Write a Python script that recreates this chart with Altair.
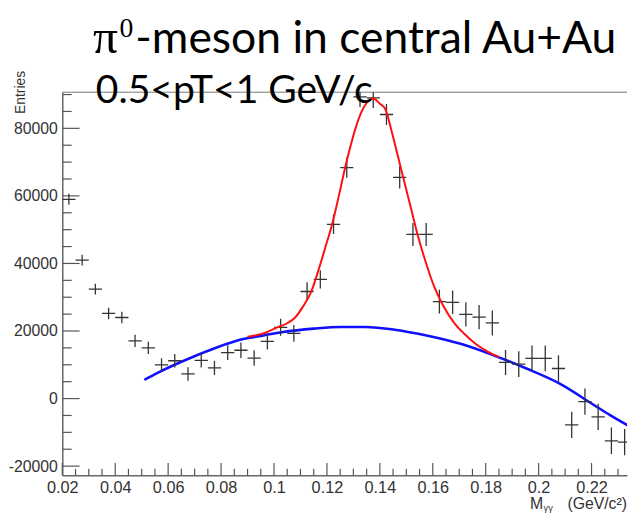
import altair as alt
import pandas as pd

# ---------------- data ----------------
bin_centers = [0.0225, 0.0275, 0.0325, 0.0375, 0.0425, 0.0475, 0.0525, 0.0575, 0.0625, 0.0675,
               0.0725, 0.0775, 0.0825, 0.0875, 0.0925, 0.0975, 0.1025, 0.1075, 0.1125, 0.1175,
               0.1225, 0.1275, 0.1325, 0.1375, 0.1425, 0.1475, 0.1525, 0.1575, 0.1625, 0.1675,
               0.1725, 0.1775, 0.1825, 0.1875, 0.1925, 0.1975, 0.2025, 0.2075, 0.2125, 0.2175,
               0.2225, 0.2275, 0.2325]
counts = [59000, 41000, 32400, 25200, 24000, 17100, 15000, 10000, 11200, 7300,
          11300, 9100, 13600, 14300, 12000, 16900, 21100, 19300, 31700, 35300,
          51600, 68400, 89300, 89000, 84100, 65500, 48600, 48600, 28700, 28500,
          24900, 24100, 22400, 10700, 10200, 11900, 11900, 8900, -7800, -900,
          -5400, -12500, -12900]
errors = [1600, 1600, 1600, 1700, 1700, 1800, 1800, 1900, 2000, 2000,
          2100, 2100, 2200, 2300, 2300, 2400, 2500, 2500, 2700, 2700,
          2900, 3000, 3000, 3000, 3100, 3300, 3400, 3400, 3500, 3500,
          3600, 3600, 3700, 3700, 3800, 3800, 3800, 3900, 3900, 3900,
          3900, 3900, 3900]
bin_half_width = 0.0025

blue_x = [0.0510, 0.0560, 0.0610, 0.0686, 0.0786, 0.0884, 0.0960, 0.1034, 0.1150, 0.1250,
          0.1345, 0.1456, 0.1581, 0.1705, 0.1830, 0.1954, 0.2078, 0.2203, 0.2270, 0.2345]
blue_y = [5500, 7600, 9500, 12100, 15200, 17600, 18700, 19700, 20700, 21200,
          21200, 20400, 18600, 16200, 12800, 8900, 4500, -1600, -4900, -8300]

red_x = [0.0900, 0.0960, 0.1010, 0.1050, 0.1080, 0.1110, 0.1140, 0.1170, 0.1195, 0.1220,
         0.1245, 0.1270, 0.1290, 0.1310, 0.1330, 0.1350, 0.1375, 0.1400, 0.1420, 0.1445,
         0.1470, 0.1495, 0.1520, 0.1545, 0.1575, 0.1605, 0.1640, 0.1680, 0.1720, 0.1760,
         0.1807, 0.1850]
red_y = [18300, 19300, 21000, 22300, 24000, 27300, 31500, 38500, 45000, 51700,
         60000, 68800, 75000, 80500, 84800, 87500, 88800, 87300, 85800, 79000,
         71200, 63400, 55600, 47800, 40000, 33200, 27400, 22500, 19100, 16300,
         13900, 12300]

x_major_ticks = [0.02, 0.04, 0.06, 0.08, 0.10, 0.12, 0.14, 0.16, 0.18, 0.20, 0.22]
x_minor_ticks = [0.025, 0.03, 0.035, 0.045, 0.05, 0.055, 0.065, 0.07, 0.075, 0.085, 0.09, 0.095,
                 0.105, 0.11, 0.115, 0.125, 0.13, 0.135, 0.145, 0.15, 0.155, 0.165, 0.17, 0.175,
                 0.185, 0.19, 0.195, 0.205, 0.21, 0.215, 0.225, 0.23]
y_major_ticks = [-20000, 0, 20000, 40000, 60000, 80000]
y_minor_ticks = [-15000, -10000, -5000, 5000, 10000, 15000, 25000, 30000, 35000, 45000, 50000,
                 55000, 65000, 70000, 75000, 85000, 90000]

title_main = "-meson in central Au+Au"
title_pi = "π"
title_sup = "0"
subtitle = "0.5<pT<1 GeV/c"
y_title = "Entries"
x_title_m = "M"
x_title_sub = "γγ"
x_title_unit = "(GeV/c²)"

# ---------------- layout ----------------
W, H = 572, 388
x_dom = [0.02, 0.2334]
y_dom = [-22700, 90700]
LABEL_FONT = "Liberation Sans"
INK = "#333333"

xs = alt.Scale(domain=x_dom, nice=False, zero=False)
ys = alt.Scale(domain=y_dom, nice=False, zero=False)

x_axis = alt.Axis(values=x_major_ticks, format="~g", title=None, ticks=False, grid=False,
                  labelFlush=False, labelOverlap=False, labelPadding=4, labelFontSize=16.5,
                  labelFont=LABEL_FONT, labelColor=INK, domainColor="#666666", domainWidth=1.5)
y_axis = alt.Axis(values=y_major_ticks, format="d", title=None, ticks=False, grid=False,
                  labelExpr="replace(datum.label, '\u2212', '-')",
                  labelFlush=False, labelOverlap=False, labelPadding=5, labelFontSize=16,
                  labelFont=LABEL_FONT, labelColor=INK, domainColor="#666666", domainWidth=1.5)

df = pd.DataFrame({"x": bin_centers, "y": counts, "e": errors})
df["lo"] = df["y"] - df["e"]
df["hi"] = df["y"] + df["e"]
df["xl"] = df["x"] - bin_half_width
df["xr"] = df["x"] + bin_half_width

one = pd.DataFrame({"k": [0]})

vbars = alt.Chart(df).mark_rule(color=INK, strokeWidth=1.3, clip=True).encode(
    x=alt.X("x:Q", scale=xs, axis=x_axis),
    y=alt.Y("lo:Q", scale=ys, axis=y_axis),
    y2="hi:Q",
)
hbars = alt.Chart(df).mark_rule(color=INK, strokeWidth=1.3, clip=True).encode(
    x=alt.X("xl:Q", scale=xs, axis=x_axis),
    x2="xr:Q",
    y=alt.Y("y:Q", scale=ys, axis=y_axis),
)

blue = alt.Chart(pd.DataFrame({"x": blue_x, "y": blue_y})).mark_line(
    color="#1010ff", strokeWidth=2.6, interpolate="monotone", clip=True
).encode(x=alt.X("x:Q", scale=xs, axis=x_axis), y=alt.Y("y:Q", scale=ys, axis=y_axis))

red = alt.Chart(pd.DataFrame({"x": red_x, "y": red_y})).mark_line(
    color="#ff1010", strokeWidth=2.0, interpolate="monotone", clip=True
).encode(x=alt.X("x:Q", scale=xs, axis=x_axis), y=alt.Y("y:Q", scale=ys, axis=y_axis))

tick_color = "#555555"
xmaj = alt.Chart(pd.DataFrame({"t": x_major_ticks})).mark_rule(color=tick_color, strokeWidth=1.2).encode(
    x=alt.X("t:Q", scale=xs, axis=x_axis), y=alt.value(H), y2=alt.value(H - 12.5))
xmin = alt.Chart(pd.DataFrame({"t": x_minor_ticks})).mark_rule(color=tick_color, strokeWidth=1.2).encode(
    x=alt.X("t:Q", scale=xs, axis=x_axis), y=alt.value(H), y2=alt.value(H - 6.5))
ymaj = alt.Chart(pd.DataFrame({"t": y_major_ticks})).mark_rule(color=tick_color, strokeWidth=1.2).encode(
    y=alt.Y("t:Q", scale=ys, axis=y_axis), x=alt.value(0), x2=alt.value(17.5))
ymin = alt.Chart(pd.DataFrame({"t": y_minor_ticks})).mark_rule(color=tick_color, strokeWidth=1.2).encode(
    y=alt.Y("t:Q", scale=ys, axis=y_axis), x=alt.value(0), x2=alt.value(9.5))

frame_top = alt.Chart(one).mark_rule(color="#777777", strokeWidth=1).encode(
    x=alt.value(0), x2=alt.value(W), y=alt.value(0))


def txt(s, x, y, size, font, align="left", baseline="alphabetic", angle=0, color="#000000"):
    return alt.Chart(one).mark_text(
        text=s, font=font, fontSize=size, align=align, baseline=baseline, angle=angle, color=color
    ).encode(x=alt.value(x), y=alt.value(y))


texts = [
    txt(title_pi, 31, -40, 50, "Liberation Serif"),
    txt(title_sup, 58, -56, 28, "Liberation Serif"),
    txt(title_main, 74, -40, 45, "Lato"),
    txt(subtitle, 34, 11, 39.5, "Lato"),
    txt(y_title, -42, 22, 14, LABEL_FONT, align="left", baseline="middle", angle=270, color=INK),
    txt(x_title_unit, W, 422, 16, LABEL_FONT, align="right", color=INK),
    txt(x_title_m, 487, 422, 16, LABEL_FONT, align="right", color=INK),
    txt(x_title_sub, 487.5, 424.5, 9.5, LABEL_FONT, align="left", color=INK),
]

chart = alt.layer(
    xmin, xmaj, ymin, ymaj, frame_top, blue, vbars, hbars, red, *texts
).properties(
    width=W, height=H,
    autosize=alt.AutoSizeParams(type="none"),
    padding={"left": 55, "top": 82, "right": 1, "bottom": 38},
    background="white",
).configure_view(stroke=None)

chart.save("out.html", embed_options={"renderer": "svg", "actions": False})
